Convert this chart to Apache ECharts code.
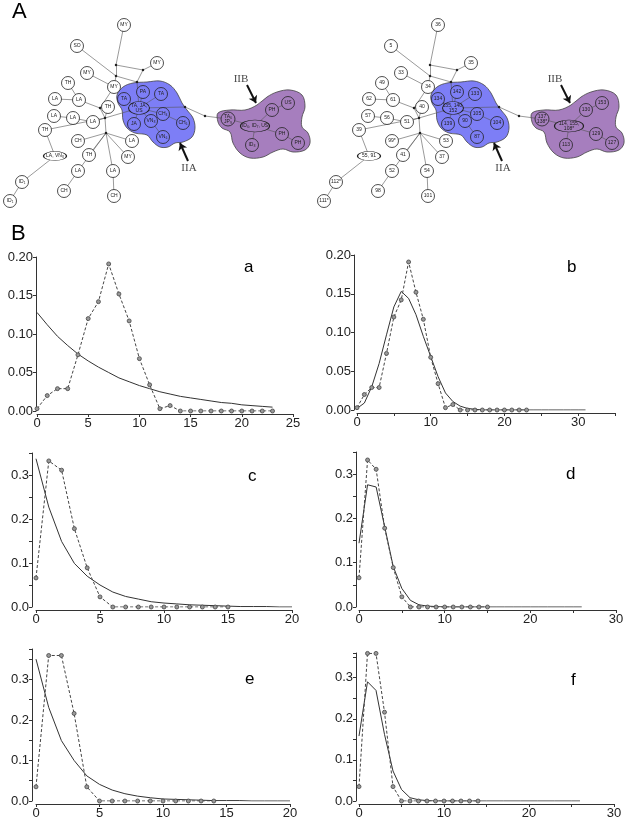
<!DOCTYPE html>
<html>
<head>
<meta charset="utf-8">
<script src="https://cdn.jsdelivr.net/npm/echarts@6/dist/echarts.min.js"></script>
<style>html,body{margin:0;padding:0;background:#fff;} #main{width:628px;height:820px;}</style>
</head>
<body>
<div id="main"></div>
<script>
// ---- network (panel A) ----
var netX = [124,77,157,87,68,114,55,79,108,54,73,93,45,78,132,89,128,55,78,113,22,64,114,10,
            124,143,161,139,163,183,134,151,163,
            228,255,272,288,282,298,252,
            116,143,116,137,105,106,185,205,100];
var netY = [25,46,63,73,83,87,99,100,107,116,118,122,130,141,141,155,157,156,171,171,182,191,196,201,
            99,92,94,108,114,123,124,121,137,
            119,126,110,103,134,143,145,
            65,70,76,82,118,133,107,116,108];
// 0 = outside, 1 = IIA, 2 = IIB, 3 = median vector
var netGroup = [0,0,0,0,0,0,0,0,0,0,0,0,0,0,0,0,0,0,0,0,0,0,0,0,
                1,1,1,1,1,1,1,1,1,
                2,2,2,2,2,2,2,
                3,3,3,3,3,3,3,3,3];
var leftLabels = ['MY','SO','MY','MY','TH','MY','LA','LA','TH','LA','LA','LA','TH','CH','LA','TH','MY','LA, VN₈','LA','LA','ID₁','CH','CH','ID₁',
                  'TA','PA','TA','TA, JA,\nUS','CH₄','CH₆','JA','VN₈','VN₆',
                  'TA₆\nJP₉','ID₆, ID₇, US','PH','US','PH','PH','ID₈'];
var rightLabels = ['36','5','35','33','49','34','62','61','40','57','56','51','39','99*','53','41','37','55, 91','52','54','112*','98','101','111*',
                   '134','142','133','135, 140,\n152','105','104','139','90','87',
                   '137\n138*','114, 155,\n108*','130','153','129','127','113'];
var netLinks = [[0,40],[40,41],[41,2],[40,42],[42,43],[41,43],[1,42],[42,5],[3,5],[43,27],
                [5,48],[7,48],[48,44],[4,7],[6,7],[9,10],[10,11],[11,44],[8,44],[12,44],
                [44,27],[44,45],[45,13],[45,14],[45,15],[45,16],[45,19],[18,45],[18,21],[19,22],
                [12,17],[17,20],[20,23],[24,27],[25,27],[26,27],[27,28],[28,29],[27,30],[27,31],
                [31,32],[27,46],[46,47],[47,33],[33,34],[34,35],[35,36],[34,37],[37,38],[34,39]];
var blobA = [[117,95],[123,87],[133,83],[147,82],[160,81],[170,85],[177,93],[182,103],[187,110],[193,118],
             [195,128],[192,137],[183,142],[175,143],[168,147],[160,147],[153,142],[147,135],[135,133],
             [127,128],[123,120],[122,110],[118,103]];
var blobB = [[218,113],[230,110],[245,110],[257,105],[267,97],[277,92],[290,90],[302,95],[305,107],
             [302,117],[302,127],[308,133],[310,143],[305,150],[293,152],[283,149],[273,152],[263,157],
             [250,158],[240,153],[233,143],[230,132],[222,128],[218,122]];
var arrowLines = [[[247,85],[256,103]], [[188,161],[180,143]]];
var annotText = ['IIB','IIA'];
var annotPos = [[241,79],[189,168]];

// ---- distributions (panel B) ----
var obsAB = [0.003,0.020,0.029,0.029,0.073,0.120,0.142,0.191,0.152,0.117,0.068,0.034,0.003,0.007,0,0,0,0,0,0,0,0,0,0];
var fitA = [0.128,0.112,0.097,0.085,0.074,0.065,0.057,0.050,0.043,0.038,0.033,0.029,0.025,0.022,0.019,0.017,0.015,0.013,0.011,0.010,0.008,0.007,0.006,0.005];
var fitB = [0.002,0.009,0.030,0.060,0.097,0.133,0.153,0.144,0.123,0.095,0.069,0.043,0.022,0.011,0.005,0.002,0.001,0,0,0,0,0,0,0,0,0,0,0,0,0,0,0];
var obsCD = [0.066,0.332,0.311,0.178,0.089,0.023,0,0,0,0,0,0,0,0,0,0];
var fitC = [0.337,0.227,0.149,0.099,0.070,0.050,0.034,0.024,0.018,0.012,0.009,0.007,0.005,0.004,0.003,0.002,0.001,0.001,0.001,0,0];
var fitD = [0.144,0.276,0.271,0.181,0.091,0.042,0.015,0.005,0.002,0.001,0,0,0,0,0,0,0,0,0,0,0,0,0,0,0,0,0];
var obsEF = [0.035,0.359,0.359,0.216,0.035,0,0,0,0,0,0,0,0,0,0];
var fitE = [0.350,0.231,0.149,0.100,0.062,0.041,0.027,0.018,0.012,0.008,0.005,0.004,0.003,0.002,0.001,0.001,0.001,0,0,0,0];
var fitF = [0.158,0.290,0.269,0.162,0.073,0.028,0.008,0.003,0.001,0,0,0,0,0,0,0,0,0,0,0,0,0,0,0,0,0,0];
var panelNames = ['a','b','c','d','e','f'];

var blue = 'rgb(125,126,246)';
var purple = 'rgb(166,126,190)';
var font = 'Liberation Sans';

function pairs(arr) {
    var out = [];
    for (var i = 0; i < arr.length; i++) out.push([i, arr[i]]);
    return out;
}

var ellipseSize = {17: [23, 9], 27: [21, 13], 34: [29, 12], 33: [14, 14]};

function netSeries(gi, labels) {
    var data = [];
    for (var i = 0; i < netX.length; i++) {
        var g = netGroup[i];
        var item = {name: 'n' + i, value: [netX[i], netY[i]]};
        if (g === 3) {
            item.symbolSize = 2.5;
            item.itemStyle = {color: '#222', borderWidth: 0};
            item.label = {show: false};
        } else {
            item.symbolSize = ellipseSize[i] || 13;
            item.itemStyle = {color: g === 1 ? blue : (g === 2 ? purple : '#fff'), borderColor: '#222', borderWidth: 0.8};
            item.label = {show: true, formatter: labels[i]};
        }
        data.push(item);
    }
    var links = netLinks.map(function (l) { return {source: 'n' + l[0], target: 'n' + l[1]}; });
    return {
        type: 'graph', coordinateSystem: 'cartesian2d', xAxisIndex: gi, yAxisIndex: gi,
        data: data, links: links, silent: true, z: 3,
        lineStyle: {color: '#555', width: 0.6, opacity: 1},
        label: {position: 'inside', fontSize: 5, lineHeight: 5.5, color: '#222', fontFamily: font}
    };
}

function blobSeries(gi, pts, color) {
    return {
        type: 'custom', xAxisIndex: gi, yAxisIndex: gi, data: [[0, 0]], z: 1, silent: true,
        renderItem: function (params, api) {
            var p = pts.map(function (q) { return api.coord(q); });
            return {type: 'polygon', shape: {points: p, smooth: 0.35},
                    style: {fill: color, stroke: '#444', lineWidth: 0.8}};
        }
    };
}

function arrowSeries(gi) {
    return {
        type: 'lines', coordinateSystem: 'cartesian2d', xAxisIndex: gi, yAxisIndex: gi, z: 4, silent: true,
        symbol: ['none', 'arrow'], symbolSize: 7,
        lineStyle: {color: '#111', width: 2, opacity: 1},
        data: arrowLines.map(function (c) { return {coords: c}; })
    };
}

function annotSeries(gi) {
    return {
        type: 'scatter', xAxisIndex: gi, yAxisIndex: gi, symbolSize: 0, z: 5, silent: true,
        data: annotPos.map(function (p, i) { return {value: p, name: annotText[i]}; }),
        label: {show: true, position: 'inside', formatter: '{b}', fontSize: 11,
                fontFamily: 'Liberation Serif', color: '#111'}
    };
}

var grids = [
    {left: 0, top: 0, width: 314, height: 220},
    {left: 314, top: 0, width: 314, height: 220},
    {left: 37, top: 257, width: 256, height: 154},
    {left: 357, top: 255, width: 258, height: 155},
    {left: 36, top: 453, width: 256, height: 154},
    {left: 359, top: 452, width: 257, height: 155},
    {left: 36, top: 649, width: 254, height: 154},
    {left: 359, top: 653, width: 255, height: 149}
];

var xAxes = [], yAxes = [];
for (var g = 0; g < 2; g++) {
    xAxes.push({gridIndex: g, type: 'value', min: 0, max: 314, show: false});
    yAxes.push({gridIndex: g, type: 'value', min: 0, max: 220, inverse: true, show: false});
}

// per panel: x max, x label step, y max, y decimals, y label step, y offset
var xMax = [25, 35, 20, 30, 20, 30];
var xLab = [5, 10, 5, 10, 5, 10];
var yMax = [0.20, 0.20, 0.35, 0.35, 0.375, 0.36];
var yDec = [2, 2, 1, 1, 1, 1];
var yLab = [0.05, 0.05, 0.1, 0.1, 0.1, 0.1];
var yOff = [1, 3, 4, 3, 4, 3];

function isStep(v, s) {
    var r = v / s;
    return Math.abs(r - Math.round(r)) < 1e-6;
}

var axisCol = '#333';
for (var k = 0; k < 6; k++) {
    (function (k) {
        xAxes.push({
            gridIndex: k + 2, type: 'value', min: 0, max: xMax[k], interval: 5, offset: 3,
            axisLine: {onZero: false, lineStyle: {color: axisCol, width: 1}},
            axisTick: {length: 3, lineStyle: {color: axisCol}},
            splitLine: {show: false},
            axisLabel: {fontSize: 13, color: '#222', margin: 3, fontFamily: font,
                formatter: function (v) { return isStep(v, xLab[k]) ? String(v) : ''; }}
        });
        yAxes.push({
            gridIndex: k + 2, type: 'value', min: 0, max: yMax[k], interval: 0.05, offset: yOff[k],
            axisLine: {show: true, onZero: false, lineStyle: {color: axisCol, width: 1}},
            axisTick: {show: true, length: 3, lineStyle: {color: axisCol}},
            splitLine: {show: false},
            axisLabel: {fontSize: 13, color: '#222', margin: 3, fontFamily: font,
                formatter: function (v) { return (isStep(v, yLab[k]) && v <= yMax[k] - 1e-9 + (k < 4 ? 1e-6 : 0)) ? v.toFixed(yDec[k]) : ''; }}
        });
    })(k);
}

var obsSets = [obsAB, obsAB, obsCD, obsCD, obsEF, obsEF];
var fitSets = [fitA, fitB, fitC, fitD, fitE, fitF];

var series = [
    blobSeries(0, blobA, blue), blobSeries(0, blobB, purple),
    blobSeries(1, blobA, blue), blobSeries(1, blobB, purple),
    netSeries(0, leftLabels), netSeries(1, rightLabels),
    arrowSeries(0), arrowSeries(1), annotSeries(0), annotSeries(1)
];
for (var s = 0; s < 6; s++) {
    series.push({
        type: 'line', xAxisIndex: s + 2, yAxisIndex: s + 2, data: pairs(fitSets[s]),
        symbol: 'none', lineStyle: {color: '#333', width: 1}, z: 2, silent: true
    });
    series.push({
        type: 'line', xAxisIndex: s + 2, yAxisIndex: s + 2, data: pairs(obsSets[s]),
        symbol: 'circle', symbolSize: 4, showAllSymbol: true,
        itemStyle: {color: '#999', borderColor: '#444', borderWidth: 0.8},
        lineStyle: {color: '#444', width: 1, type: [3, 2]}, z: 3, silent: true
    });
}

var titleStyle = {fontWeight: 'normal', fontFamily: font, color: '#000'};
var titles = [
    {text: 'A', left: 12, top: 1, padding: 0, textStyle: Object.assign({fontSize: 22}, titleStyle)},
    {text: 'B', left: 11, top: 223, padding: 0, textStyle: Object.assign({fontSize: 22}, titleStyle)}
];
var letterPos = [[244, 259], [567, 259], [248, 468], [566, 466], [245, 671], [571, 672]];
for (var t = 0; t < 6; t++) {
    titles.push({text: panelNames[t], left: letterPos[t][0], top: letterPos[t][1], padding: 0,
                 textStyle: Object.assign({fontSize: 17}, titleStyle)});
}

var myChart = echarts.init(document.getElementById('main'));
myChart.setOption({
    animation: false,
    backgroundColor: '#fff',
    title: titles,
    grid: grids,
    xAxis: xAxes,
    yAxis: yAxes,
    series: series
});
</script>
</body>
</html>
